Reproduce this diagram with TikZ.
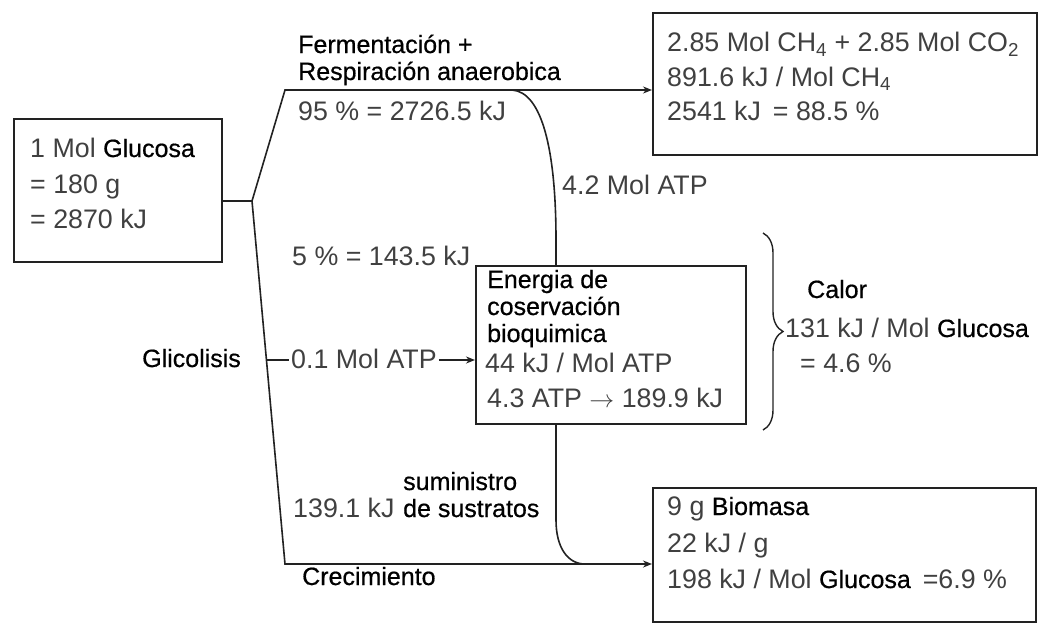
\documentclass[tikz,border=0pt]{standalone}
\usepackage{fontspec}
\setmainfont{Liberation Sans}
\newfontfamily\bkfont[FakeBold=0.6]{Liberation Sans}
\usetikzlibrary{arrows.meta,decorations.pathreplacing}
\definecolor{txtg}{HTML}{404040}
\definecolor{ln}{HTML}{222222}
\newcommand{\bkw}[1]{\textcolor{black}{\bkfont\fontsize{25}{30}\selectfont #1}}
\begin{document}
\begin{tikzpicture}[x=1pt,y=-1pt,
  boxS/.style={draw=ln,line width=1.6pt,inner sep=0pt,anchor=north west},
  gr/.style={text=txtg,font=\fontsize{26.8}{32}\selectfont,inner sep=0pt,anchor=base west},
  bk/.style={text=black,font=\bkfont\fontsize{25}{30}\selectfont,inner sep=0pt,anchor=base west},
  conn/.style={draw=ln,line width=1.6pt},
  arr/.style={conn,-{Stealth[length=9pt,width=7pt]}}]
\useasboundingbox (0,0) rectangle (1057,626);
% boxes
\node[boxS,minimum width=208pt,minimum height=143pt] (glu) at (13,118) {};
\node[boxS,minimum width=384pt,minimum height=142pt] (top) at (652,12) {};
\node[boxS,minimum width=270pt,minimum height=158pt] (mid) at (475,265) {};
\node[boxS,minimum width=383pt,minimum height=134pt] (bot) at (652,487) {};
% glucose text
\node[gr] (g1) at (30,157) {1 Mol \bkw{Glucosa}};
\node[gr] (g2) at (30,193) {= 180 g};
\node[gr] (g3) at (30,228) {= 2870 kJ};
% top box text
\node[gr] (t1) at (667,52) {2.85 Mol CH\textsubscript{4} + 2.85 Mol CO\textsubscript{2}};
\node[gr] (t2) at (667,86) {891.6 kJ / Mol CH\textsubscript{4}};
\node[gr] (t3) at (667,120) {2541 kJ \,= 88.5 \%};
% mid box text
\node[bk] (m1) at (487,288) {Energia de};
\node[bk] (m2) at (487,315) {coservación};
\node[bk] (m3) at (487,342) {bioquimica};
\node[gr] (m4) at (485,372) {44 kJ / Mol ATP};
\node[gr] (m5) at (487,407) {4.3 ATP $\rightarrow$ 189.9 kJ};
% bottom box text
\node[gr] (b1) at (667,515) {9 g \bkw{Biomasa}};
\node[gr] (b2) at (667,552) {22 kJ / g};
\node[gr] (b3) at (667,588) {198 kJ / Mol \bkw{Glucosa} \,=6.9 \%};
% labels
\node[bk] (f1) at (298,53) {Fermentación +};
\node[bk] (f2) at (298,80) {Respiración anaerobica};
\node[gr] (f3) at (298,120) {95 \% = 2726.5 kJ};
\node[gr] (atp42) at (562,194) {4.2 Mol ATP};
\node[gr] (p5) at (292,265) {5 \% = 143.5 kJ};
\node[bk] (gli) at (142,367) {Glicolisis};
\node[gr] (atp01) at (291,368) {0.1 Mol ATP};
\node[gr] (k139) at (293,517) {139.1 kJ};
\node[bk] (s1) at (403,490) {suministro};
\node[bk] (s2) at (403,517) {de sustratos};
\node[bk] (cre) at (302,585) {Crecimiento};
\node[bk] (cal) at (807,298) {Calor};
\node[gr] (c2) at (785,337) {131 kJ / Mol \bkw{Glucosa}};
\node[gr] (c3) at (800,372) {= 4.6 \%};
% coordinates
\coordinate (J) at (252,201);
\coordinate (TL) at (285,90);
\coordinate (BL) at (285,564);
\coordinate (tick) at (266,360);
\coordinate (btop) at (763,233);
\coordinate (bbot) at (763,430);
% connectors
\draw[conn] (glu.east |- J) -- (J);
\draw[arr] (J) -- (TL) -- (TL -| top.west);
\draw[arr] (J) -- (BL) -- (BL -| bot.west);
\draw[conn] (tick) -- ([xshift=-2pt]atp01.west |- tick);
\draw[arr] ([xshift=2pt]atp01.east |- tick) -- (mid.west |- tick);
\draw[conn] (512,90) .. controls (542,92) and (556,150) .. (556,240) -- (556,265);
\draw[conn] (556,423) -- (556,520) .. controls (556,548) and (568,564) .. (585,564);
\draw[conn,line width=1.4pt,decorate,decoration={brace,amplitude=20pt}] (btop) -- (bbot);
\end{tikzpicture}
\end{document}
